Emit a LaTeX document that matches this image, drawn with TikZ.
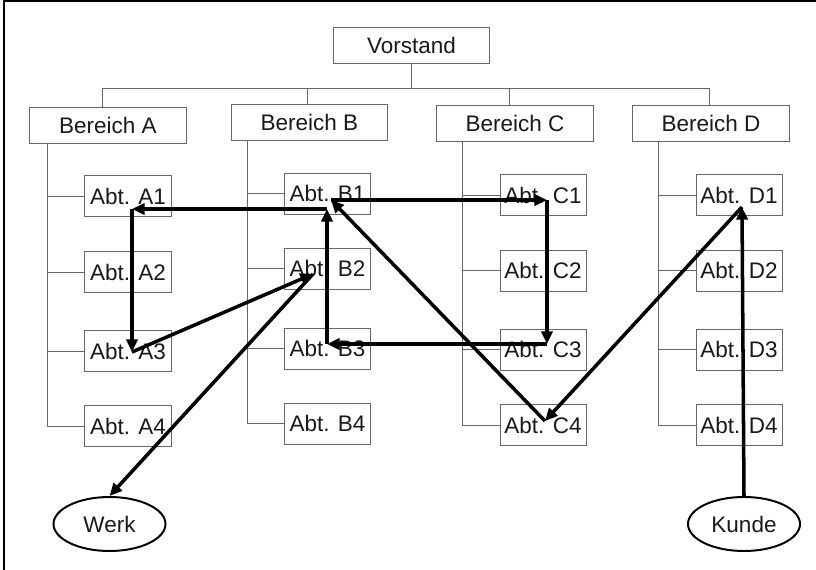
\documentclass[tikz,border=0pt]{standalone}
\usepackage{fontspec}
\setmainfont{Liberation Sans}
\usetikzlibrary{arrows.meta,shapes.geometric}

\begin{document}
\begin{tikzpicture}[x=0.025cm, y=-0.025cm,
  box/.style={draw=black!60, line width=0.7pt, fill=white, inner sep=1pt,
    font=\fontsize{16}{19}\selectfont, text=black!90},
  bereich/.style={box, minimum width=3.9cm, minimum height=0.9cm},
  abt/.style={box, minimum width=2.15cm, minimum height=1.025cm},
  ort/.style={box, ellipse, draw=black, line width=1.4pt, minimum width=2.8cm, minimum height=1.35cm},
  tree/.style={draw=black!60, line width=0.7pt},
  flow/.style={line width=2.5pt, -{Triangle[length=9pt,width=8pt]}}]
  \useasboundingbox (0,0) rectangle (816,570);
  \draw[line width=0.8pt] (4,570) -- (4,1) -- (816,1);

  \node[bereich, minimum height=0.875cm] (vorstand) at (411.5,45.5) {Vorstand};
  \node[bereich] (bereichA) at (108,125) {Bereich A};
  \node[bereich] (bereichB) at (309.5,122.5) {Bereich B};
  \node[bereich] (bereichC) at (515,123.5) {Bereich C};
  \node[bereich] (bereichD) at (711,123.5) {Bereich D};

  \node[abt] (abtA1) at (128,196) {Abt. A1};
  \node[abt] (abtA2) at (128,272) {Abt. A2};
  \node[abt] (abtA3) at (128,351) {Abt. A3};
  \node[abt] (abtA4) at (128,426) {Abt. A4};
  \node[abt] (abtB1) at (327.5,193.5) {Abt. B1};
  \node[abt] (abtB2) at (327.5,268.5) {Abt. B2};
  \node[abt] (abtB3) at (327.5,348.5) {Abt. B3};
  \node[abt] (abtB4) at (327.5,423.5) {Abt. B4};
  \node[abt] (abtC1) at (543,195) {Abt. C1};
  \node[abt] (abtC2) at (543,270.5) {Abt. C2};
  \node[abt] (abtC3) at (543,349.5) {Abt. C3};
  \node[abt] (abtC4) at (543,425) {Abt. C4};
  \node[abt] (abtD1) at (739,195) {Abt. D1};
  \node[abt] (abtD2) at (739,270.5) {Abt. D2};
  \node[abt] (abtD3) at (739,349.5) {Abt. D3};
  \node[abt] (abtD4) at (739,425) {Abt. D4};

  \node[ort] (werk) at (109.5,524) {Werk};
  \node[ort] (kunde) at (744,524) {Kunde};

  \coordinate (bus) at (0,88);
  \draw[tree] (vorstand.south) -- (vorstand.south |- bus);
  \draw[tree] ([xshift=-0.15cm]bereichA.north) -- ([xshift=-0.15cm]bereichA.north |- bus)
    -- ([xshift=-0.05cm]bereichD.north |- bus) -- ([xshift=-0.05cm]bereichD.north);
  \draw[tree] ([xshift=-0.05cm]bereichB.north) -- ([xshift=-0.05cm]bereichB.north |- bus);
  \draw[tree] ([xshift=-0.15cm]bereichC.north) -- ([xshift=-0.15cm]bereichC.north |- bus);

  \coordinate (trunkA) at (47,143);
  \coordinate (trunkB) at (247,140);
  \coordinate (trunkC) at (462,141);
  \coordinate (trunkD) at (658,141);
  \foreach \col in {A,B,C,D} {
    \draw[tree] (trunk\col) |- (abt\col4.west);
    \foreach \i in {1,2,3}
      \draw[tree] (abt\col\i.west) -- (abt\col\i.west -| trunk\col);
  }

  \coordinate (hitD1) at (742,207);
  \coordinate (hitC4) at (545,421);
  \coordinate (hitB1) at (331,200);
  \coordinate (hitC1) at (547,200);
  \coordinate (hitC3) at (547,344);
  \coordinate (hitB3) at (327,344);
  \coordinate (hitB1l) at (327,209);
  \coordinate (hitA1) at (132,209);
  \coordinate (hitA3) at (132,352);
  \coordinate (hitB2) at (313,274);

  \draw[flow] (kunde.north) -- (hitD1);
  \draw[flow] (hitD1) -- (hitC4);
  \draw[flow] (hitC4) -- (hitB1);
  \draw[flow] (hitB1) -- (hitC1);
  \draw[flow] (hitC1) -- (hitC3);
  \draw[flow] (hitC3) -- (hitB3);
  \draw[flow] (hitB3) -- (hitB1l);
  \draw[flow] (hitB1l) -- (hitA1);
  \draw[flow] (hitA1) -- (hitA3);
  \draw[flow] (hitA3) -- (hitB2);
  \draw[flow] (hitB2) -- (werk.north);
\end{tikzpicture}
\end{document}
